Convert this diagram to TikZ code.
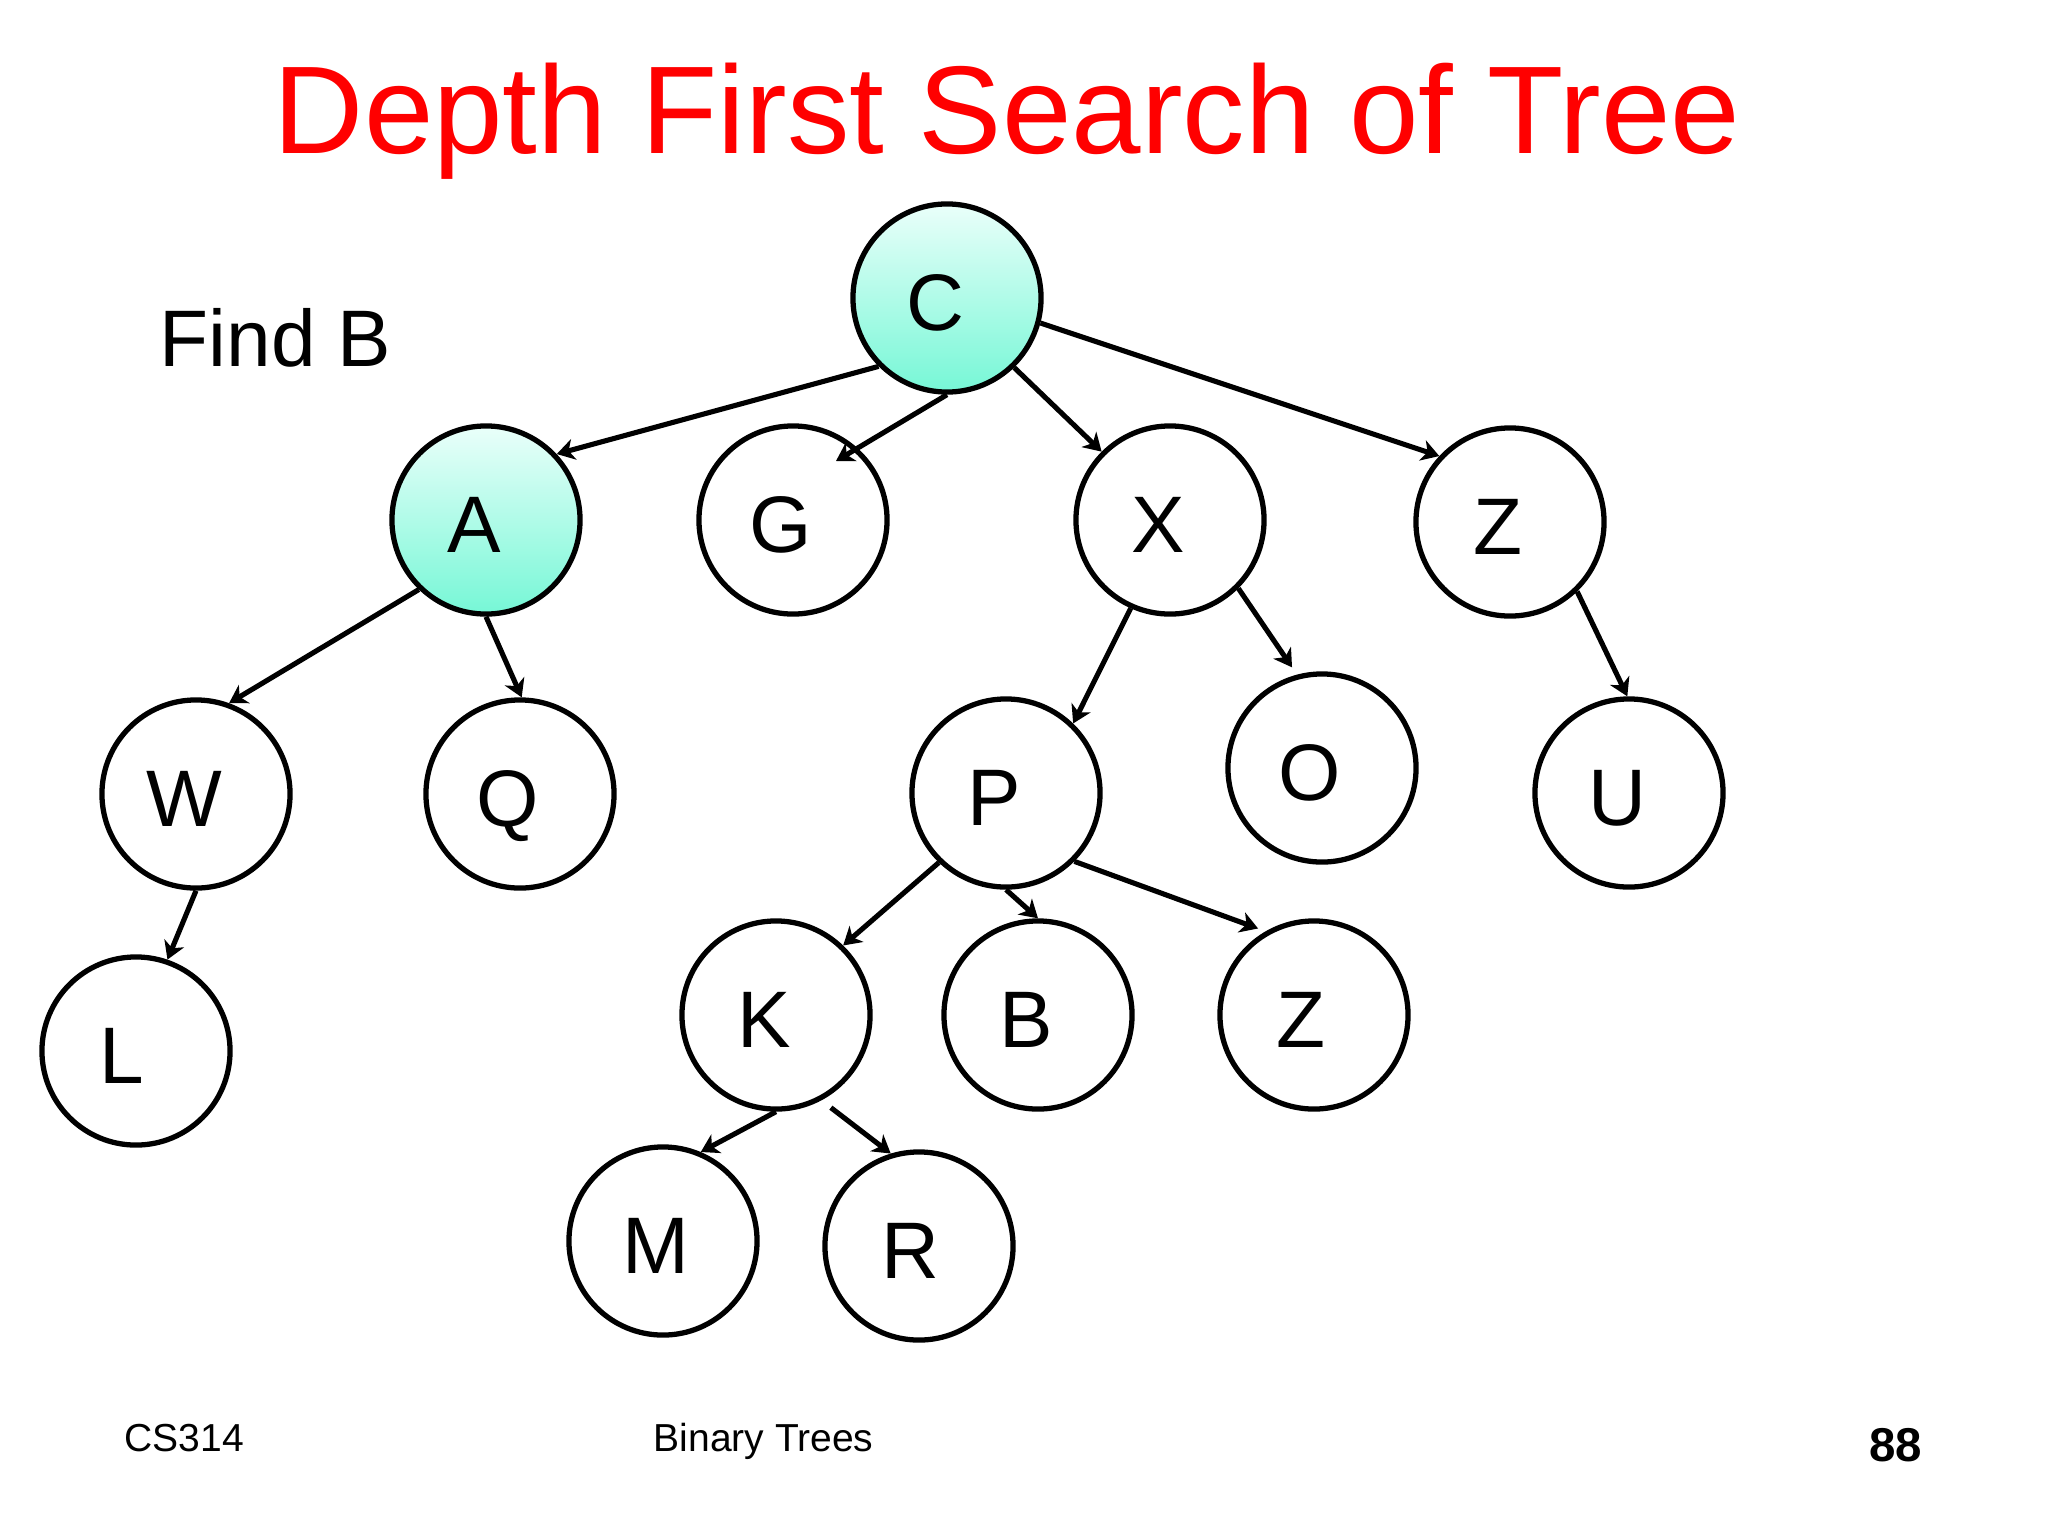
\documentclass[tikz,border=0pt]{standalone}
\usepackage{fontspec}
\setmainfont{Liberation Sans}
\usetikzlibrary{arrows.meta,calc}
\definecolor{titlered}{RGB}{255,0,0}
\definecolor{aquatop}{RGB}{234,255,250}
\definecolor{aquabot}{RGB}{118,247,214}
\begin{document}
\begin{tikzpicture}[x=0.01cm,y=-0.01cm,
  tnode/.style={circle,draw=black,line width=1.5pt,minimum size=1.88cm,inner sep=0pt,fill=white,
    font=\fontsize{22.8}{27}\selectfont,text height=18.5pt,text depth=0pt},
  visited/.style={tnode,top color=aquatop,bottom color=aquabot},
  link/.style={line width=1.45pt,-{Stealth[length=5pt,width=6pt,inset=1.5pt]}}]
\useasboundingbox (0,0) rectangle (2048,1536);
% title and texts
\node[anchor=base,text=titlered,font=\fontsize{35.5}{40}\selectfont,inner sep=0pt] (title) at (1007,153) {Depth First Search of Tree};
\node[anchor=base west,font=\fontsize{22.8}{28}\selectfont,inner sep=0pt] (find) at (159,366) {Find B};
\node[anchor=base west,font=\fontsize{11.1}{13}\selectfont,inner sep=0pt] (course) at (124,1451) {CS314};
\node[anchor=base west,font=\fontsize{11.1}{13}\selectfont,inner sep=0pt] (topic) at (653,1451) {Binary Trees};
\node[anchor=base east,font=\bfseries\fontsize{13.5}{16}\selectfont,inner sep=0pt] (page) at (1923,1461) {88};
% tree nodes
\node[visited] (C) at (947,298) {\kern-6.8pt C};
\node[visited] (A) at (486,520) {\kern-6.8pt A};
\node[tnode] (G) at (793,520) {\kern-6.8pt G};
\node[tnode] (X) at (1170,520) {\kern-6.8pt X};
\node[tnode] (Z) at (1510,522) {\kern-6.8pt Z};
\node[tnode] (W) at (196,794) {\kern-6.8pt W};
\node[tnode] (Q) at (520,794) {\kern-6.8pt Q};
\node[tnode] (P) at (1006,793) {\kern-6.8pt P};
\node[tnode] (O) at (1322,768) {\kern-6.8pt O};
\node[tnode] (U) at (1629,793) {\kern-6.8pt U};
\node[tnode] (L) at (136,1051) {\kern-8pt L};
\node[tnode] (K) at (776,1015) {\kern-6.8pt K};
\node[tnode] (B) at (1038,1015) {\kern-6.8pt B};
\node[tnode] (Z2) at (1314,1015) {\kern-7.5pt Z};
\node[tnode] (M) at (663,1241) {\kern-4pt M};
\node[tnode] (R) at (919,1246) {\kern-5pt R};
% edges
\draw[link] (C.225) -- (A.43);
\draw[link] (C.270) -- ($(G.center)+(43,-59)$);
\draw[link] (C.314) -- (X.135);
\draw[link] (C.345) -- (Z.137);
\draw[link] (A.226) -- (W.70);
\draw[link] (A.270) -- (Q.89);
\draw[link] (W.270) -- (L.71);
\draw[link] (X.246) -- (P.46);
\draw[link,shorten >=2.5pt] (X.315) -- (O.105);
\draw[link] (Z.314) -- (U.91);
\draw[link] (P.226) -- (K.46);
\draw[link] (P.270) -- (B.90);
\draw[link,shorten >=2.3pt] (P.315) -- (Z2.120);
\draw[link] (K.270) -- (M.67);
\draw[link,shorten <=3.4pt] (K.298) -- (R.107);
\end{tikzpicture}
\end{document}
